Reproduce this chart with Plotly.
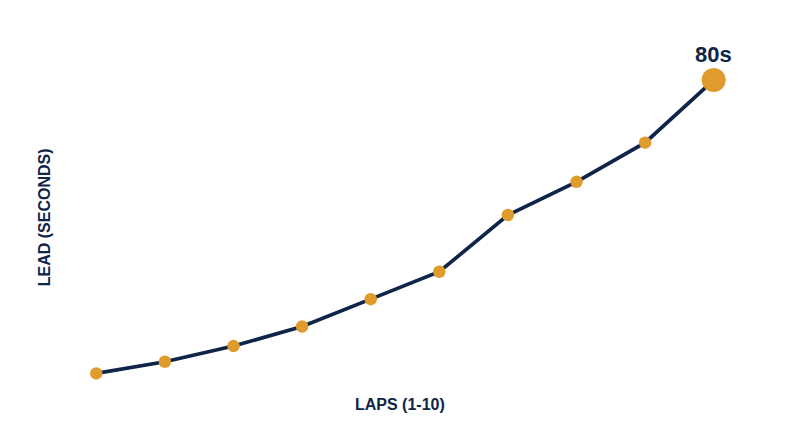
import plotly.graph_objects as go

laps = [1, 2, 3, 4, 5, 6, 7, 8, 9, 10]
lead_seconds = [5, 8, 12, 17, 24, 31, 45.5, 54, 64, 80]
marker_sizes = [12.5, 12.5, 12.5, 12.5, 12.5, 12.5, 12.5, 12.5, 12.5, 24]

navy = "#0e2449"
gold = "#e09b2d"

fig = go.Figure()

# line first, dots on top
fig.add_trace(go.Scatter(
    x=laps,
    y=lead_seconds,
    mode="lines",
    line=dict(color=navy, width=3.7),
    hoverinfo="skip",
))
fig.add_trace(go.Scatter(
    x=laps,
    y=lead_seconds,
    mode="markers",
    marker=dict(color=gold, size=marker_sizes, opacity=1, line=dict(width=0)),
    hoverinfo="x+y",
))

fig.add_annotation(
    x=laps[-1], y=lead_seconds[-1],
    text="<b>%ds</b>" % lead_seconds[-1],
    showarrow=False,
    yshift=26,
    font=dict(size=22, color=navy, family="Liberation Sans"),
)

# axis titles
fig.add_annotation(
    xref="paper", yref="paper", x=0.492, y=-0.0315,
    text="<b>LAPS (1-10)</b>", showarrow=False,
    xanchor="center", yanchor="middle",
    font=dict(size=16, color=navy, family="Liberation Sans"),
)
fig.add_annotation(
    xref="paper", yref="paper", x=-0.0254, y=0.498,
    text="<b>LEAD (SECONDS)</b>", showarrow=False, textangle=-90,
    xanchor="center", yanchor="middle",
    font=dict(size=16, color=navy, family="Liberation Sans"),
)

fig.update_layout(
    width=800,
    height=447,
    margin=dict(l=54, r=60, t=33, b=62),
    paper_bgcolor="white",
    plot_bgcolor="white",
    showlegend=False,
    font=dict(family="Liberation Sans", color=navy),
    xaxis=dict(
        range=[0.5, 10.5],
        showgrid=False, zeroline=False, showline=False,
        showticklabels=False, ticks="",
    ),
    yaxis=dict(
        range=[0, 90],
        showgrid=False, zeroline=False, showline=False,
        showticklabels=False, ticks="",
    ),
)

fig.write_html("out.html")
